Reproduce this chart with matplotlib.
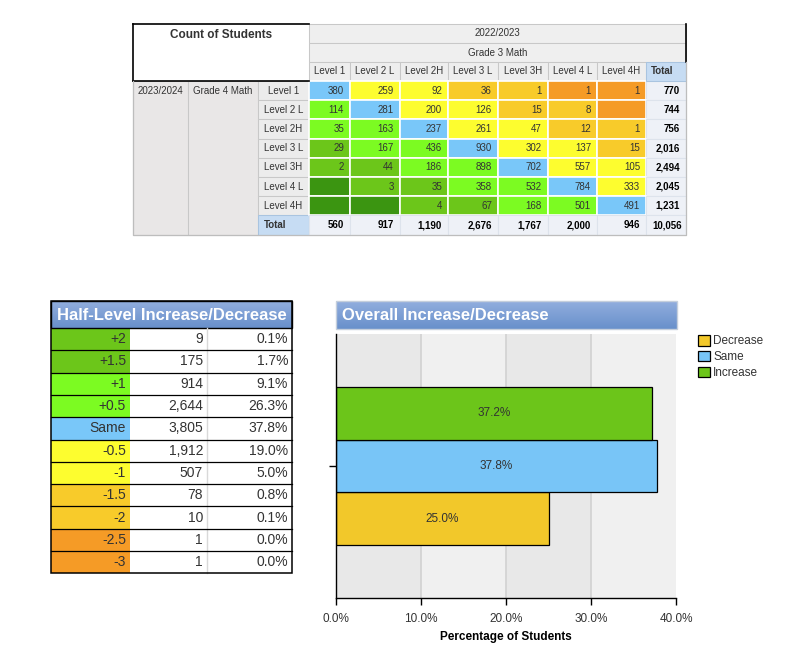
import matplotlib
matplotlib.use('Agg')
import matplotlib.pyplot as plt
from matplotlib.patches import Rectangle
import numpy as np

plt.rcParams['font.family'] = ['Liberation Sans', 'DejaVu Sans']

# ---------------- data ----------------
levels = ['Level 1', 'Level 2 L', 'Level 2H', 'Level 3 L', 'Level 3H', 'Level 4 L', 'Level 4H']
prior_year = '2022/2023'
prior_subject = 'Grade 3 Math'
current_year = '2023/2024'
current_subject = 'Grade 4 Math'
counts = [
    [380, 259, 92, 36, 1, 1, 1],
    [114, 281, 200, 126, 15, 8, None],
    [35, 163, 237, 261, 47, 12, 1],
    [29, 167, 436, 930, 302, 137, 15],
    [2, 44, 186, 898, 702, 557, 105],
    [None, 3, 35, 358, 532, 784, 333],
    [None, None, 4, 67, 168, 501, 491],
]
row_totals = [770, 744, 756, 2016, 2494, 2045, 1231]
col_totals = [560, 917, 1190, 2676, 1767, 2000, 946]
grand_total = 10056

half_labels = ['+2', '+1.5', '+1', '+0.5', 'Same', '-0.5', '-1', '-1.5', '-2', '-2.5', '-3']
half_counts = [9, 175, 914, 2644, 3805, 1912, 507, 78, 10, 1, 1]
half_pct = [0.1, 1.7, 9.1, 26.3, 37.8, 19.0, 5.0, 0.8, 0.1, 0.0, 0.0]

overall_cats = ['Decrease', 'Same', 'Increase']
overall_pct = [25.0, 37.8, 37.2]
x_ticks = [0, 10, 20, 30, 40]

# ---------------- styles ----------------
C_BLUE = '#79c7f9'
C_YEL = '#fdfd2f'
C_GOLD = '#f8cb2a'
C_ORG = '#f59b26'
C_G1 = '#7cfb22'
C_G2 = '#6cc61a'
C_G3 = '#3b9511'
overall_colors = ['#f2c82a', '#78c5f7', '#6cc51a']
TXT = '#333333'
TS = 7  # top table font size


def diff_color(step):
    if step == 0:
        return C_BLUE
    mag = (abs(step) + 1) // 2
    if step > 0:
        return [C_G1, C_G2, C_G3][mag - 1]
    return [C_YEL, C_GOLD, C_ORG][mag - 1]


def label_step(lbl):
    return 0 if lbl == 'Same' else int(round(float(lbl) * 2))


W, H = 810, 672
fig = plt.figure(figsize=(W / 100, H / 100), dpi=100)
fig.patch.set_facecolor('white')
ov = fig.add_axes([0, 0, 1, 1])
ov.axis('off')


def cell(x0, y0, x1, y1, fc, ec='none', lw=0.75, z=1):
    ov.add_patch(Rectangle((x0, y0), x1 - x0, y1 - y0, facecolor=fc,
                           edgecolor=ec, linewidth=lw, zorder=z))


def txt(x, y, s, ha='center', size=TS, weight='normal', color=TXT, z=5):
    ov.text(x, y, s, ha=ha, va='center', fontsize=size, fontweight=weight,
            color=color, zorder=z)


def fmt(v):
    return '' if v is None else f'{v:,}'


# ---------------- top cross table ----------------
TX = [309, 350, 400, 448, 498, 548, 597, 646, 686]
HY = [24, 43, 62, 81]
RY0, RH = 81, 19.2
GRID = '#c8c8c8'
nrows = len(levels)
row_y = [RY0 + RH * k for k in range(nrows + 2)]

# column headers
cell(TX[0], HY[0], TX[-1], HY[1], '#efefef', GRID)
txt((TX[0] + TX[-1]) / 2, (HY[0] + HY[1]) / 2, prior_year)
cell(TX[0], HY[1], TX[-1], HY[2], '#efefef', GRID)
txt((TX[0] + TX[-1]) / 2, (HY[1] + HY[2]) / 2, prior_subject)
for j, lv in enumerate(levels):
    cell(TX[j], HY[2], TX[j + 1], HY[3], '#eeeeee', GRID)
    txt((TX[j] + TX[j + 1]) / 2, (HY[2] + HY[3]) / 2, lv)
cell(TX[-2], HY[2], TX[-1], HY[3], '#c6dcf3', '#a9c4e0', z=2)
txt(TX[-2] + 5, (HY[2] + HY[3]) / 2, 'Total', ha='left', weight='bold')
ov.plot([TX[-1], TX[-1]], [HY[0], HY[2]], color='black', lw=1.2, zorder=3)

# corner box
ov.plot([133, 309], [HY[0], HY[0]], color='black', lw=1.2, zorder=3)
ov.plot([133, 133], [HY[0], HY[3]], color='black', lw=1.2, zorder=3)
ov.plot([133, 309], [HY[3], HY[3]], color='black', lw=1.2, zorder=3)
txt(221, 34.5, 'Count of Students', size=8.5, weight='bold')

# row headers
cell(133, RY0, 188, row_y[-1], '#e9e7e7', GRID)
txt(160.5, RY0 + 10, current_year)
cell(188, RY0, 258, row_y[-1], '#e9e7e7', GRID)
txt(223, RY0 + 10, current_subject)
for i, lv in enumerate(levels):
    cell(258, row_y[i], 309, row_y[i + 1], '#ececec', GRID)
    txt(283.5, (row_y[i] + row_y[i + 1]) / 2, lv)
cell(258, row_y[nrows], 309, row_y[nrows + 1], '#c6dcf3', '#a9c4e0')
txt(264, (row_y[nrows] + row_y[nrows + 1]) / 2, 'Total', ha='left', weight='bold')

# data cells
for i in range(nrows):
    yc = (row_y[i] + row_y[i + 1]) / 2
    for j in range(len(levels)):
        cell(TX[j], row_y[i], TX[j + 1], row_y[i + 1], diff_color(i - j), 'white', 1.2)
        txt(TX[j + 1] - 6, yc, fmt(counts[i][j]), ha='right')
    cell(TX[-2], row_y[i], TX[-1], row_y[i + 1], '#eef1f7', '#dde3ec')
    txt(TX[-1] - 6, yc, fmt(row_totals[i]), ha='right', weight='bold', color='black')
yc = (row_y[nrows] + row_y[nrows + 1]) / 2
for j in range(len(levels)):
    cell(TX[j], row_y[nrows], TX[j + 1], row_y[nrows + 1], '#eef1f7', '#dde3ec')
    txt(TX[j + 1] - 6, yc, fmt(col_totals[j]), ha='right', weight='bold', color='black')
cell(TX[-2], row_y[nrows], TX[-1], row_y[nrows + 1], '#eef1f7', '#dde3ec')
txt(TX[-1] - 4, yc, fmt(grand_total), ha='right', weight='bold', color='black')
ov.plot([133, 133, TX[-1], TX[-1]], [HY[3], row_y[-1], row_y[-1], HY[2]],
        color='#bdbdbd', lw=0.9, zorder=3)

# ---------------- gradient title helper ----------------
grad = np.linspace(0, 1, 64)[:, None]
top_c = np.array([146, 174, 222]) / 255
bot_c = np.array([104, 144, 203]) / 255
grad_img = (top_c[None, None, :] * (1 - grad[:, :, None]) + bot_c[None, None, :] * grad[:, :, None])


def title_bar(x0, y0, x1, y1, label, ec):
    ov.imshow(grad_img, extent=(x0, x1, y1, y0), origin='upper', aspect='auto',
              interpolation='bilinear', zorder=2)
    cell(x0, y0, x1, y1, 'none', ec, 1.0, z=3)
    txt(x0 + 6, (y0 + y1) / 2 + 0.5, label, ha='left', size=12, weight='bold',
        color='white')


# ---------------- half-level table ----------------
BX = [51, 130, 207, 292]
BY0, BY1 = 301, 328
BRH = 22.3
title_bar(BX[0], BY0, BX[-1], BY1, 'Half-Level Increase/Decrease', 'black')
by = [BY1 + BRH * k for k in range(len(half_labels) + 1)]
for k, lbl in enumerate(half_labels):
    cell(BX[0], by[k], BX[1], by[k + 1], diff_color(label_step(lbl)))
    cell(BX[1], by[k], BX[3], by[k + 1], 'white')
    yc = (by[k] + by[k + 1]) / 2
    txt(BX[1] - 4, yc, lbl, ha='right', size=10)
    txt(BX[2] - 4, yc, f'{half_counts[k]:,}', ha='right', size=10)
    txt(BX[3] - 4, yc, f'{half_pct[k]:.1f}%', ha='right', size=10)
ov.plot([BX[2], BX[2]], [by[0], by[-1]], color='#d9d9d9', lw=1.0, zorder=3)
for yy in by[1:-1]:
    ov.plot([BX[0], BX[-1]], [yy, yy], color='black', lw=0.9, zorder=3)
cell(BX[0], BY0, BX[-1], by[-1], 'none', 'black', 1.1, z=4)

# ---------------- overall bar chart ----------------
title_bar(336, 301, 677, 329, 'Overall Increase/Decrease', '#c5cfdc')

ov.set_xlim(0, W)
ov.set_ylim(H, 0)

ax = fig.add_axes([336 / W, 1 - 598 / H, (676 - 336) / W, (598 - 334) / H])
band_cols = ['#e8e8e8', '#f0f0f0']
for k in range(len(x_ticks) - 1):
    ax.axvspan(x_ticks[k], x_ticks[k + 1], color=band_cols[k % 2], zorder=0, lw=0)
for t in x_ticks[1:-1]:
    ax.axvline(t, color='#d4d4d4', lw=1.3, zorder=0.5)
bh = 0.2
offsets = [-bh, 0, bh]
bars = []
for k, (cat, v) in enumerate(zip(overall_cats, overall_pct)):
    b = ax.barh(offsets[k], v, height=bh, color=overall_colors[k], edgecolor='black',
                linewidth=0.9, label=cat, zorder=2)
    bars.append(b)
    ax.text(v / 2, offsets[k], f'{v:.1f}%', ha='center', va='center', fontsize=8.5,
            color=TXT, zorder=3)
ax.set_xlim(x_ticks[0], x_ticks[-1])
ax.set_ylim(-0.5, 0.5)
ax.set_xticks(x_ticks)
ax.set_xticklabels([f'{t:.1f}%' for t in x_ticks])
ax.set_yticks([0])
ax.set_yticklabels([''])
ax.tick_params(axis='both', direction='out', length=5, width=1, colors='black',
               labelsize=8.5, labelcolor=TXT, pad=6)
for s in ['top', 'right']:
    ax.spines[s].set_visible(False)
for s in ['left', 'bottom']:
    ax.spines[s].set_color('black')
    ax.spines[s].set_linewidth(1)
ax.set_xlabel('Percentage of Students', fontsize=8.5, fontweight='bold', color='black',
              labelpad=4)
ax.set_facecolor('white')

leg = ax.legend(handles=bars, loc='upper left', bbox_to_anchor=(698 / W, 1 - 335 / H),
                bbox_transform=fig.transFigure, frameon=False, fontsize=8.5,
                handlelength=1.0, handleheight=1.0, handletextpad=0.3,
                labelspacing=0.3, borderpad=0, borderaxespad=0)
for t in leg.get_texts():
    t.set_color(TXT)

fig.savefig('out.png', dpi=100)
